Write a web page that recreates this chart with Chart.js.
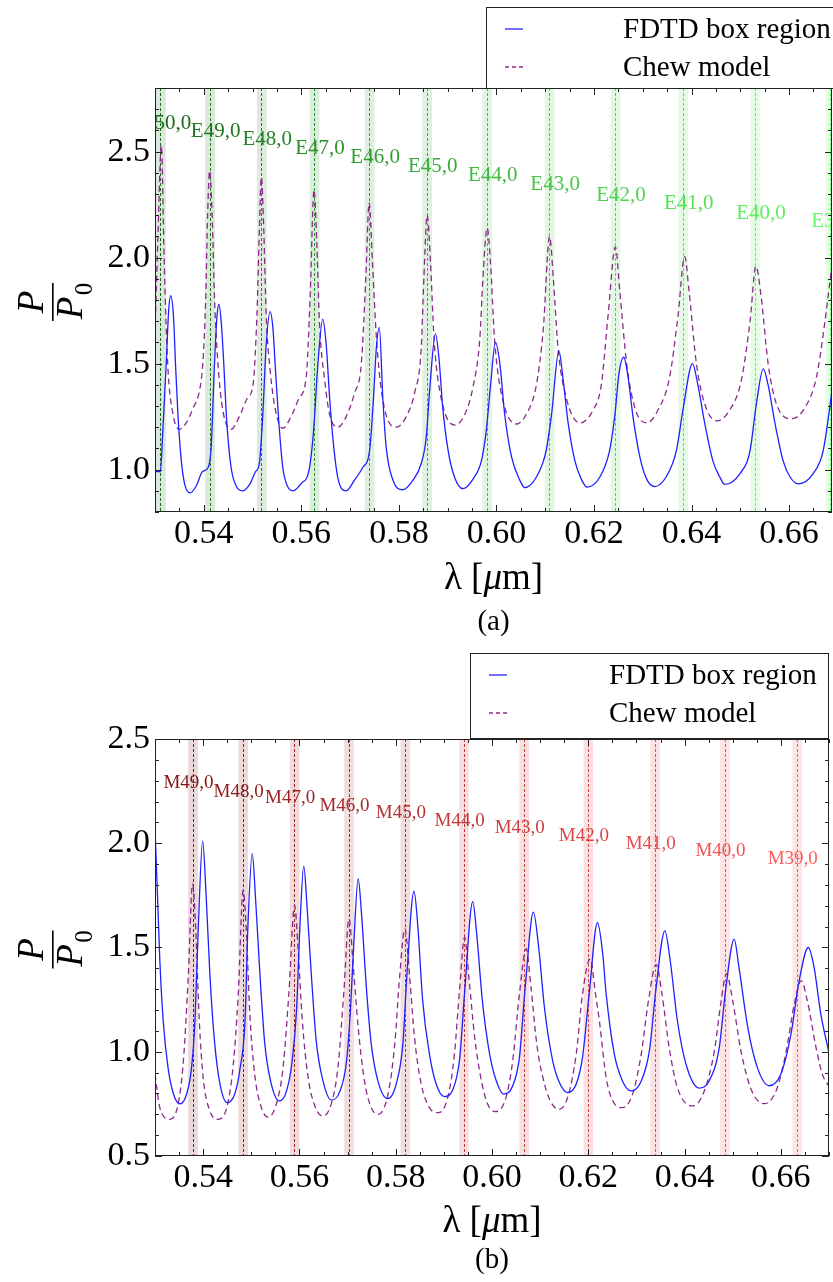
<!DOCTYPE html>
<html>
<head>
<meta charset="utf-8">
<script src="https://cdn.jsdelivr.net/npm/chart.js@4.4.1/dist/chart.umd.min.js"></script>
<style>
  body { margin: 0; background: #fff; }
  #wrap { position: relative; width: 833px; height: 1282px; }
  canvas { position: absolute; left: 0; }
</style>
</head>
<body>
<div id="wrap">
  <canvas id="chartA" width="833" height="640" style="top:0px"></canvas>
  <canvas id="chartB" width="833" height="642" style="top:640px"></canvas>
</div>
<script>
// tick labels
const xTicks = [0.54, 0.56, 0.58, 0.60, 0.62, 0.64, 0.66];
const yTicksA = [1.0, 1.5, 2.0, 2.5];
const yTicksB = [0.5, 1.0, 1.5, 2.0, 2.5];

// mode positions (um) and their labels
const modesA = [0.5311, 0.5412, 0.5518, 0.5626, 0.5739, 0.5857, 0.5980, 0.6108, 0.6243, 0.6382, 0.6530, 0.6684];
const modeNamesA = ['E50,0', 'E49,0', 'E48,0', 'E47,0', 'E46,0', 'E45,0', 'E44,0', 'E43,0', 'E42,0', 'E41,0', 'E40,0', 'E39,0'];
const modeLabelYA = [2.632, 2.595, 2.556, 2.515, 2.472, 2.429, 2.387, 2.344, 2.292, 2.253, 2.209, 2.171];

const modesB = [0.5378, 0.5482, 0.5589, 0.5702, 0.5819, 0.5941, 0.6066, 0.6199, 0.6338, 0.6483, 0.6633];
const modeNamesB = ['M49,0', 'M48,0', 'M47,0', 'M46,0', 'M45,0', 'M44,0', 'M43,0', 'M42,0', 'M41,0', 'M40,0', 'M39,0'];
const modeLabelYB = [2.287, 2.247, 2.215, 2.179, 2.143, 2.106, 2.071, 2.034, 1.995, 1.963, 1.926];

// (a) FDTD box region  [lambda, P/P0]
const fdtdA = [
  [0.5300,0.99],[0.5311,0.99],[0.5316,1.18],[0.5323,1.50],[0.5328,1.75],[0.5332,1.82],[0.5338,1.72],[0.5342,1.50],
  [0.5347,1.26],[0.5354,1.04],[0.5361,0.93],[0.5372,0.89],[0.5385,0.925],[0.5397,0.99],[0.5409,1.01],[0.5415,1.10],
  [0.5422,1.50],[0.5427,1.72],[0.5431,1.78],[0.5436,1.69],[0.5441,1.50],[0.5447,1.23],[0.5456,1.01],[0.5467,0.92],
  [0.5480,0.90],[0.5494,0.93],[0.5506,0.99],[0.5514,1.03],[0.5521,1.26],[0.5528,1.59],[0.5536,1.745],[0.5542,1.66],
  [0.5547,1.47],[0.5554,1.22],[0.5562,1.01],[0.5572,0.92],[0.5583,0.90],[0.5600,0.935],[0.5616,1.00],[0.5625,1.18],
  [0.5634,1.50],[0.5644,1.71],[0.5651,1.59],[0.5658,1.34],[0.5665,1.14],[0.5675,0.96],[0.5692,0.90],[0.5709,0.95],
  [0.5726,1.01],[0.5740,1.09],[0.5748,1.34],[0.5754,1.58],[0.5760,1.67],[0.5767,1.34],[0.5774,1.105],[0.5788,0.95],
  [0.5808,0.905],[0.5829,0.95],[0.5846,1.03],[0.5856,1.15],[0.5863,1.37],[0.5875,1.64],[0.5882,1.53],[0.5890,1.29],
  [0.5901,1.09],[0.5914,0.965],[0.5931,0.91],[0.5952,0.955],[0.5969,1.04],[0.5979,1.18],[0.5988,1.40],[0.5998,1.60],
  [0.6007,1.50],[0.6017,1.26],[0.6031,1.06],[0.6048,0.95],[0.6058,0.915],[0.6082,0.965],[0.6102,1.09],[0.6113,1.26],
  [0.6128,1.56],[0.6137,1.42],[0.6147,1.22],[0.6161,1.04],[0.6174,0.955],[0.6186,0.917],[0.6212,0.965],[0.6232,1.09],
  [0.6243,1.26],[0.6251,1.45],[0.6261,1.53],[0.6270,1.435],[0.6280,1.25],[0.6294,1.06],[0.6308,0.955],[0.6325,0.92],
  [0.6349,0.97],[0.6369,1.09],[0.6383,1.29],[0.6402,1.50],[0.6413,1.40],[0.6427,1.22],[0.6444,1.04],[0.6458,0.965],
  [0.6468,0.93],[0.6499,0.98],[0.6520,1.09],[0.6533,1.31],[0.6547,1.475],[0.6557,1.40],[0.6571,1.22],[0.6588,1.04],
  [0.6602,0.965],[0.6619,0.933],[0.6649,0.98],[0.6670,1.09],[0.6688,1.37]
];

// (a) Chew model
const chewA = [
  [0.5300,1.65],[0.5306,2.10],[0.5313,2.53],[0.5319,1.97],[0.5326,1.50],[0.5337,1.26],[0.5350,1.19],[0.5364,1.22],
  [0.5378,1.29],[0.5391,1.37],[0.5398,1.50],[0.5404,1.81],[0.5408,2.21],[0.5412,2.41],[0.5417,2.21],[0.5422,1.81],
  [0.5429,1.50],[0.5439,1.28],[0.5456,1.19],[0.5473,1.25],[0.5490,1.34],[0.5501,1.40],[0.5509,1.73],[0.5514,2.13],
  [0.5518,2.38],[0.5523,2.13],[0.5528,1.73],[0.5536,1.47],[0.5547,1.28],[0.5562,1.195],[0.5579,1.25],[0.5596,1.34],
  [0.5610,1.435],[0.5618,1.81],[0.5626,2.32],[0.5632,2.05],[0.5637,1.70],[0.5648,1.42],[0.5658,1.26],[0.5675,1.20],
  [0.5692,1.25],[0.5709,1.36],[0.5723,1.50],[0.5732,1.89],[0.5739,2.26],[0.5746,1.97],[0.5754,1.62],[0.5767,1.33],
  [0.5795,1.20],[0.5815,1.25],[0.5832,1.36],[0.5846,1.58],[0.5851,1.89],[0.5858,2.20],[0.5865,1.97],[0.5872,1.62],
  [0.5884,1.37],[0.5914,1.21],[0.5935,1.26],[0.5952,1.39],[0.5966,1.62],[0.5972,1.89],[0.5981,2.14],[0.5988,1.97],
  [0.5996,1.62],[0.6010,1.36],[0.6041,1.215],[0.6061,1.26],[0.6082,1.40],[0.6096,1.66],[0.6109,2.10],[0.6117,1.89],
  [0.6126,1.58],[0.6143,1.34],[0.6171,1.22],[0.6198,1.28],[0.6215,1.40],[0.6229,1.73],[0.6244,2.05],[0.6253,1.84],
  [0.6267,1.50],[0.6284,1.29],[0.6308,1.22],[0.6331,1.28],[0.6355,1.435],[0.6372,1.72],[0.6386,2.005],[0.6395,1.84],
  [0.6410,1.50],[0.6427,1.31],[0.6452,1.23],[0.6478,1.28],[0.6502,1.42],[0.6520,1.70],[0.6532,1.96],[0.6543,1.81],
  [0.6557,1.50],[0.6574,1.31],[0.6605,1.24],[0.6632,1.29],[0.6656,1.435],[0.6673,1.69],[0.6686,1.93]
];

// (b) FDTD box region
const fdtdB = [
  [0.5300,2.07],[0.5305,1.76],[0.5310,1.44],[0.5317,1.15],[0.5327,0.925],[0.5338,0.80],[0.5352,0.75],[0.5366,0.80],
  [0.5376,0.925],[0.5383,1.15],[0.5390,1.60],[0.5399,2.01],[0.5406,1.76],[0.5414,1.37],[0.5424,1.04],[0.5435,0.845],
  [0.5450,0.756],[0.5466,0.80],[0.5476,0.91],[0.5487,1.15],[0.5493,1.60],[0.5502,1.95],[0.5509,1.73],[0.5518,1.37],
  [0.5528,1.04],[0.5540,0.86],[0.5558,0.764],[0.5573,0.81],[0.5585,0.957],[0.5594,1.20],[0.5601,1.60],[0.5609,1.89],
  [0.5616,1.69],[0.5625,1.36],[0.5635,1.05],[0.5649,0.86],[0.5666,0.768],[0.5684,0.81],[0.5698,0.957],[0.5706,1.20],
  [0.5713,1.52],[0.5722,1.83],[0.5729,1.66],[0.5739,1.31],[0.5749,1.04],[0.5763,0.86],[0.5783,0.775],[0.5801,0.845],
  [0.5815,1.04],[0.5823,1.36],[0.5838,1.77],[0.5846,1.60],[0.5856,1.245],[0.5870,0.99],[0.5884,0.845],[0.5901,0.785],
  [0.5919,0.82],[0.5933,0.97],[0.5943,1.28],[0.5960,1.72],[0.5968,1.57],[0.5980,1.245],[0.5995,0.99],[0.6009,0.86],
  [0.6024,0.797],[0.6043,0.837],[0.6057,0.973],[0.6069,1.31],[0.6086,1.67],[0.6097,1.50],[0.6109,1.21],[0.6126,0.957],
  [0.6140,0.852],[0.6157,0.804],[0.6175,0.845],[0.6188,0.973],[0.6202,1.28],[0.6219,1.62],[0.6230,1.47],[0.6237,1.28],
  [0.6254,0.99],[0.6271,0.86],[0.6289,0.812],[0.6310,0.86],[0.6327,1.005],[0.6341,1.31],[0.6359,1.58],[0.6370,1.44],
  [0.6385,1.15],[0.6403,0.94],[0.6430,0.826],[0.6451,0.86],[0.6472,1.02],[0.6486,1.31],[0.6503,1.54],[0.6513,1.405],
  [0.6531,1.12],[0.6551,0.925],[0.6576,0.837],[0.6600,0.893],[0.6621,1.085],[0.6638,1.34],[0.6657,1.50],[0.6669,1.405],
  [0.6683,1.18],[0.6699,1.005]
];

// (b) Chew model
const chewB = [
  [0.5300,0.893],[0.5310,0.732],[0.5331,0.676],[0.5348,0.749],[0.5359,0.957],[0.5369,1.357],[0.5378,1.806],[0.5385,1.566],
  [0.5392,1.149],[0.5400,0.877],[0.5414,0.716],[0.5431,0.676],[0.5449,0.732],[0.5462,0.925],[0.5473,1.277],[0.5483,1.774],
  [0.5490,1.566],[0.5497,1.181],[0.5507,0.893],[0.5521,0.732],[0.5535,0.687],[0.5552,0.749],[0.5566,0.925],[0.5578,1.277],
  [0.5590,1.702],[0.5597,1.501],[0.5606,1.149],[0.5618,0.877],[0.5632,0.74],[0.5648,0.692],[0.5666,0.749],[0.5680,0.925],
  [0.5692,1.277],[0.5703,1.638],[0.5711,1.438],[0.5722,1.117],[0.5735,0.861],[0.5749,0.732],[0.5764,0.70],[0.5784,0.797],
  [0.5798,1.037],[0.5808,1.357],[0.5819,1.59],[0.5829,1.357],[0.5839,1.069],[0.5853,0.845],[0.5870,0.732],[0.5888,0.708],
  [0.5908,0.78],[0.5922,0.989],[0.5933,1.309],[0.5943,1.55],[0.5952,1.357],[0.5964,1.069],[0.5978,0.861],[0.5991,0.749],
  [0.6007,0.713],[0.6029,0.78],[0.6043,0.957],[0.6057,1.277],[0.6071,1.494],[0.6081,1.309],[0.6093,1.037],[0.6109,0.845],
  [0.6123,0.756],[0.6139,0.724],[0.6157,0.78],[0.6175,0.989],[0.6188,1.277],[0.6204,1.446],[0.6215,1.277],[0.6223,1.149],
  [0.6237,0.877],[0.6251,0.764],[0.6271,0.732],[0.6292,0.797],[0.6310,0.989],[0.6325,1.245],[0.6341,1.418],[0.6353,1.277],
  [0.6368,1.021],[0.6385,0.828],[0.6417,0.74],[0.6441,0.812],[0.6462,1.005],[0.6476,1.245],[0.6487,1.374],[0.6500,1.245],
  [0.6517,1.005],[0.6538,0.821],[0.6565,0.751],[0.6590,0.812],[0.6610,0.989],[0.6628,1.229],[0.6642,1.341],[0.6655,1.245],
  [0.6673,1.021],[0.6686,0.893],[0.6699,0.837]
];

const SERIF = '"Liberation Serif", "Times New Roman", serif';
const BLUE = '#1f1fff';
const PURPLE = '#8a2a8a';

function mix(c0, c1, t) {
  return c0.map((v, k) => Math.round(v + (c1[k] - v) * t));
}
function rgba(c, a) { return `rgba(${c[0]},${c[1]},${c[2]},${a})`; }

function panelPlugin(p) {
  return {
    id: 'panel' + p.tag,
    beforeDatasetsDraw(chart) {
      const { ctx, chartArea: a, scales: { x } } = chart;
      ctx.save();
      ctx.beginPath();
      ctx.rect(a.left, a.top, a.right - a.left, a.bottom - a.top);
      ctx.clip();
      p.modes.forEach((m, i) => {
        const c = mix(p.c0, p.c1, i / (p.modes.length - 1));
        const x0 = x.getPixelForValue(m - 0.0009);
        const x1 = x.getPixelForValue(m + 0.0011);
        ctx.fillStyle = rgba(c, 0.16);
        ctx.fillRect(x0, a.top, x1 - x0, a.bottom - a.top);
        const px = Math.round(x.getPixelForValue(m)) + 0.5;
        ctx.strokeStyle = rgba(c, 1);
        ctx.lineWidth = 1;
        ctx.setLineDash([3, 2]);
        ctx.beginPath();
        ctx.moveTo(px, a.top);
        ctx.lineTo(px, a.bottom);
        ctx.stroke();
      });
      ctx.restore();
    },
    afterDatasetsDraw(chart) {
      const { ctx, chartArea: a, scales: { x, y } } = chart;
      // mode labels, clipped to the plot
      ctx.save();
      ctx.beginPath();
      ctx.rect(a.left, a.top, a.right - a.left, a.bottom - a.top);
      ctx.clip();
      ctx.font = `${p.labelSize}px ${SERIF}`;
      ctx.textAlign = 'center';
      ctx.textBaseline = 'middle';
      p.modes.forEach((m, i) => {
        const c = mix(p.c0, p.c1, i / (p.modes.length - 1));
        ctx.fillStyle = rgba(c, 1);
        ctx.fillText(p.names[i], x.getPixelForValue(m) + p.labelDx, y.getPixelForValue(p.labelY[i]));
      });
      ctx.restore();

      // frame and inward ticks
      ctx.save();
      ctx.strokeStyle = '#222';
      ctx.lineWidth = 1;
      ctx.strokeRect(a.left + 0.5, a.top + 0.5, a.right - a.left - 1, a.bottom - a.top - 1);
      ctx.beginPath();
      for (let v = x.min; v <= x.max + 1e-9; v += 0.005) {
        const major = xTicks.some(t => Math.abs(t - v) < 1e-6);
        const len = major ? 7 : 4;
        const px = Math.round(x.getPixelForValue(v)) + 0.5;
        ctx.moveTo(px, a.bottom); ctx.lineTo(px, a.bottom - len);
        ctx.moveTo(px, a.top); ctx.lineTo(px, a.top + len);
      }
      for (let v = y.min; v <= y.max + 1e-9; v += 0.1) {
        const major = p.yTicks.some(t => Math.abs(t - v) < 1e-6);
        const len = major ? 7 : 4;
        const py = Math.round(y.getPixelForValue(v)) + 0.5;
        ctx.moveTo(a.left, py); ctx.lineTo(a.left + len, py);
        ctx.moveTo(a.right, py); ctx.lineTo(a.right - len, py);
      }
      ctx.stroke();
      ctx.restore();
    },
    afterDraw(chart) {
      const { ctx, chartArea: a } = chart;
      const cx = (a.left + a.right) / 2;
      const cy = (a.top + a.bottom) / 2;
      ctx.save();
      ctx.fillStyle = '#000';

      // legend box
      const L = p.legend;
      ctx.strokeStyle = '#222';
      ctx.lineWidth = 1;
      ctx.strokeRect(L.x + 0.5, L.y + 0.5, L.w, L.h);
      ctx.font = `29px ${SERIF}`;
      ctx.textAlign = 'left';
      ctx.textBaseline = 'middle';
      chart.data.datasets.forEach((ds, i) => {
        const ly = L.rows[i];
        ctx.strokeStyle = ds.borderColor;
        ctx.lineWidth = 1.3;
        ctx.setLineDash(ds.borderDash ? [4, 3] : []);
        ctx.beginPath();
        ctx.moveTo(L.sx0, ly); ctx.lineTo(L.sx1, ly);
        ctx.stroke();
        ctx.setLineDash([]);
        ctx.fillText(ds.label, L.tx, ly + 1);
      });

      // x axis title: λ [μm]
      const parts = [['λ [', 'normal'], ['μ', 'italic'], ['m]', 'normal']];
      let total = 0;
      parts.forEach(([s, st]) => { ctx.font = `${st} 37px ${SERIF}`; total += ctx.measureText(s).width; });
      let tx = cx - total / 2;
      ctx.textBaseline = 'middle';
      parts.forEach(([s, st]) => {
        ctx.font = `${st} 37px ${SERIF}`;
        ctx.fillText(s, tx, p.xTitleY);
        tx += ctx.measureText(s).width;
      });

      // caption
      ctx.font = `29px ${SERIF}`;
      ctx.textAlign = 'center';
      ctx.fillText(p.caption, cx, p.captionY);

      // y axis title: P / P0 as a rotated fraction
      ctx.translate(53, cy);
      ctx.rotate(-Math.PI / 2);
      ctx.textBaseline = 'alphabetic';
      ctx.font = `italic 37px ${SERIF}`;
      ctx.textAlign = 'center';
      ctx.fillText('P', -2, -10);
      ctx.fillRect(-21, -1, 38, 1.6);
      ctx.fillText('P', -8, 29);
      ctx.font = `25px ${SERIF}`;
      ctx.fillText('0', 11, 39);
      ctx.restore();
    }
  };
}

function makeChart(id, cfg) {
  return new Chart(document.getElementById(id), {
    type: 'line',
    data: {
      datasets: [{
        label: 'FDTD box region',
        data: cfg.fdtd.map(([l, v]) => ({ x: l, y: v })),
        borderColor: BLUE,
        borderWidth: 1.3,
        pointRadius: 0,
        cubicInterpolationMode: 'monotone'
      }, {
        label: 'Chew model',
        data: cfg.chew.map(([l, v]) => ({ x: l, y: v })),
        borderColor: PURPLE,
        borderWidth: 1.3,
        borderDash: [6, 4],
        pointRadius: 0,
        cubicInterpolationMode: 'monotone'
      }]
    },
    options: {
      responsive: false,
      animation: false,
      events: [],
      layout: { padding: cfg.padding },
      plugins: { legend: { display: false }, tooltip: { enabled: false } },
      scales: {
        x: {
          type: 'linear',
          min: 0.53,
          max: cfg.xMax,
          grid: { display: false, drawTicks: false },
          border: { display: false },
          afterBuildTicks: s => { s.ticks = xTicks.map(v => ({ value: v })); },
          afterFit: s => { s.height = cfg.xAxisH; },
          ticks: {
            padding: 2,
            color: '#000',
            font: { family: SERIF, size: 34 },
            maxRotation: 0,
            autoSkip: false,
            callback: v => v.toFixed(2)
          }
        },
        y: {
          min: cfg.yMin,
          max: cfg.yMax,
          grid: { display: false, drawTicks: false },
          border: { display: false },
          afterBuildTicks: s => { s.ticks = cfg.yTicks.map(v => ({ value: v })); },
          afterFit: s => { s.width = 155; },
          ticks: {
            padding: 5,
            color: '#000',
            font: { family: SERIF, size: 34 },
            callback: v => v.toFixed(1)
          }
        }
      }
    },
    plugins: [panelPlugin(cfg.panel)]
  });
}

makeChart('chartA', {
  fdtd: fdtdA, chew: chewA,
  xMax: 0.6688, yMin: 0.8, yMax: 2.8, yTicks: yTicksA,
  padding: { top: 88, right: 1, bottom: 0, left: 0 },
  xAxisH: 128,
  panel: {
    tag: 'A', modes: modesA, names: modeNamesA, labelY: modeLabelYA, labelDx: 6, labelSize: 21,
    c0: [25, 105, 25], c1: [100, 250, 100], yTicks: yTicksA,
    legend: { x: 486, y: 7, w: 350, h: 81, sx0: 505, sx1: 523, tx: 623, rows: [29, 67] },
    xTitleY: 579, caption: '(a)', captionY: 622
  }
});

makeChart('chartB', {
  fdtd: fdtdB, chew: chewB,
  xMax: 0.67, yMin: 0.5, yMax: 2.5, yTicks: yTicksB,
  padding: { top: 99, right: 4, bottom: 0, left: 0 },
  xAxisH: 126,
  panel: {
    tag: 'B', modes: modesB, names: modeNamesB, labelY: modeLabelYB, labelDx: -4, labelSize: 19,
    c0: [130, 20, 20], c1: [255, 90, 90], yTicks: yTicksB,
    legend: { x: 470, y: 13, w: 358, h: 85, sx0: 489, sx1: 507, tx: 609, rows: [35, 73] },
    xTitleY: 582, caption: '(b)', captionY: 620
  }
});
</script>
</body>
</html>
